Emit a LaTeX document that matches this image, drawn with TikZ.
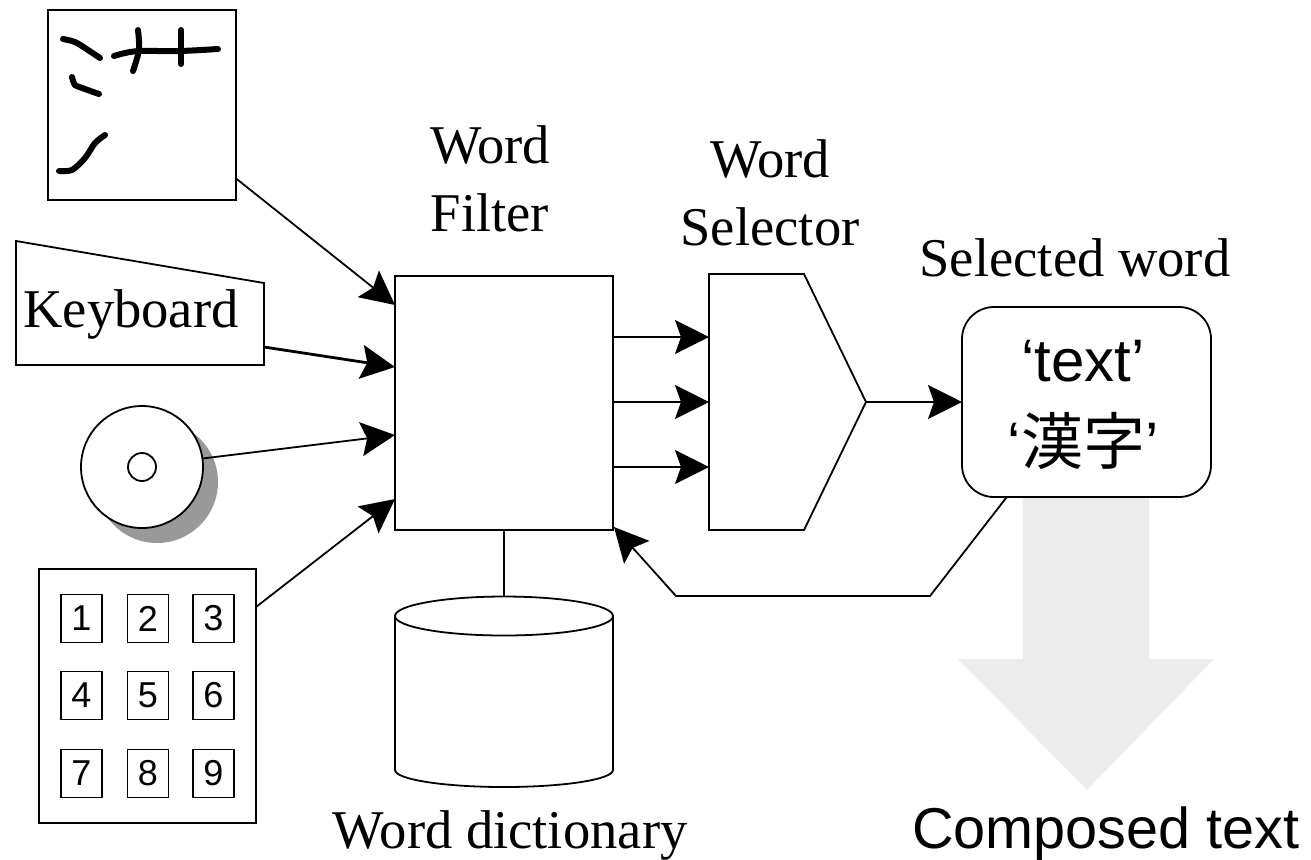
\documentclass[tikz,border=0pt]{standalone}
\usepackage{fontspec}
\setmainfont{Liberation Serif}
\setsansfont{Liberation Sans}
\newfontfamily\cjk{Noto Sans CJK JP}
\usetikzlibrary{arrows.meta}
\definecolor{ink}{HTML}{000000}
\definecolor{shade}{HTML}{999999}
\definecolor{pale}{HTML}{ECECEC}
\tikzset{
  base/.style={draw=ink, line width=0.9pt, line join=miter},
  box/.style={base, fill=white, rectangle, inner sep=0pt, outer sep=0pt},
  arr/.style={draw=ink, line width=0.9pt, -{Stealth[length=17pt,width=17pt,inset=3pt]}},
  link/.style={draw=ink, line width=0.9pt},
  pen/.style={draw=ink, line width=3pt, line cap=round, line join=round},
  lab/.style={text=ink, font=\fontsize{27.3}{34}\selectfont, align=center, inner sep=0pt},
  keybox/.style={box, minimum width=20.5pt, minimum height=24pt, font=\sffamily\fontsize{18}{20}\selectfont},
}
\begin{document}
\begin{tikzpicture}[x=0.5pt,y=-0.5pt]
  \useasboundingbox (0,0) rectangle (1311,859);
  % ports on the filter
  \coordinate (in1) at (395,305);
  \coordinate (in2) at (395,367);
  \coordinate (in3) at (395,435);
  \coordinate (in4) at (395,499);
  \coordinate (out1) at (613,337);
  \coordinate (out2) at (613,402);
  \coordinate (out3) at (613,467);
  \coordinate (sel1) at (709,337);
  \coordinate (sel2) at (709,402);
  \coordinate (sel3) at (709,467);
  \coordinate (apex) at (866,402);
  \coordinate (back) at (614,527);
  \coordinate (bend1) at (930,596);
  \coordinate (bend2) at (676,596);
  \coordinate (kbdout) at (264,347);
  \coordinate (dbtop) at (504,597);

  % handwriting pad
  \node[box, minimum width=94pt, minimum height=95pt] (sketch) at (142,105) {};
  \draw[pen] plot[smooth] coordinates {(63,39) (75,42) (88,50) (100,58)};
  \draw[pen] plot[smooth] coordinates {(114,56) (125,53) (140,51) (180,51) (218,49)};
  \draw[pen] plot[smooth] coordinates {(138,30) (139,50) (133,71)};
  \draw[pen] (181,30) -- (181,64);
  \draw[pen] plot[smooth, tension=0.4] coordinates {(72,77) (75,85) (85,89) (99,94)};
  \draw[pen] plot[smooth] coordinates {(59,171) (72,170) (85,158) (95,143) (105,135)};

  % keyboard
  \draw[base, fill=white] (16,241) -- (264,283) -- (264,365) -- (16,365) -- cycle;
  \node[lab, anchor=base] (keyboard) at (131,327) {Keyboard};

  % disc
  \node[circle, fill=shade, minimum size=61pt, inner sep=0pt] (discshadow) at (157,482) {};
  \node[box, circle, minimum size=61pt] (disc) at (142,467) {};
  \node[box, circle, minimum size=14pt] (dischole) at (142,467) {};

  % keypad
  \node[box, minimum width=108.5pt, minimum height=127pt] (keypad) at (147.5,696) {};
  \foreach \n/\kx/\ky in {1/81.5/618.5, 2/148/618.5, 3/213.5/618.5,
                          4/81.5/695.5, 5/148/695.5, 6/213.5/695.5,
                          7/81.5/773.5, 8/148/773.5, 9/213.5/773.5}
    \node[keybox] (key\n) at (\kx,\ky) {\n};

  % main blocks
  \node[box, minimum width=109pt, minimum height=127pt] (filter) at (504,403) {};
  \node[lab] (filterlab) at (490,179) {Word\\Filter};
  \draw[base, fill=white] (709,274) -- (804,274) -- (apex) -- (804,530) -- (709,530) -- cycle;
  \node[lab] (selectorlab) at (770,193) {Word\\Selector};

  % composed text arrow, under the box
  \fill[pale] (1023,490) -- (1149,490) -- (1149,659) -- (1214,659) -- (1087,790)
    -- (958,659) -- (1023,659) -- cycle;
  \node[box, rounded corners=16pt, minimum width=124.5pt, minimum height=95pt] (selected) at (1086.5,402) {};
  \node[align=center, inner sep=0pt, font=\sffamily\fontsize{30}{41.5}\selectfont] (selectedtext) at (1083,405)
    {‘text’\\‘{\cjk\fontsize{31}{41.5}\selectfont 漢字}’};
  \node[lab, anchor=base] (selectedlab) at (1075,276) {Selected word};
  \node[lab, anchor=base, font=\sffamily\fontsize{28.8}{34}\selectfont] (composed) at (1106,848) {Composed text};

  % dictionary
  \draw[base, fill=white] (395,615) -- (395,770) arc[start angle=180, end angle=0, x radius=109, y radius=17]
    -- (613,615);
  \draw[base, fill=white] (504,616) ellipse[x radius=109, y radius=19.5];
  \node[lab, anchor=base] (dictlab) at (510,848) {Word dictionary};

  % connectors
  \draw[arr] (sketch.-38.7) -- (in1);
  \draw[arr, line width=1.4pt] (kbdout) -- (in2);
  \draw[arr] (disc.8) -- (in3);
  \draw[arr] (keypad.east |- 0,607) -- (in4);
  \draw[arr] (out1) -- (sel1);
  \draw[arr] (out2) -- (sel2);
  \draw[arr] (out3) -- (sel3);
  \draw[arr] (apex) -- (selected.west);
  \draw[link] (filter.south) -- (dbtop);
  \draw[arr] (selected.-130) -- (bend1) -- (bend2) -- (back);
\end{tikzpicture}
\end{document}
